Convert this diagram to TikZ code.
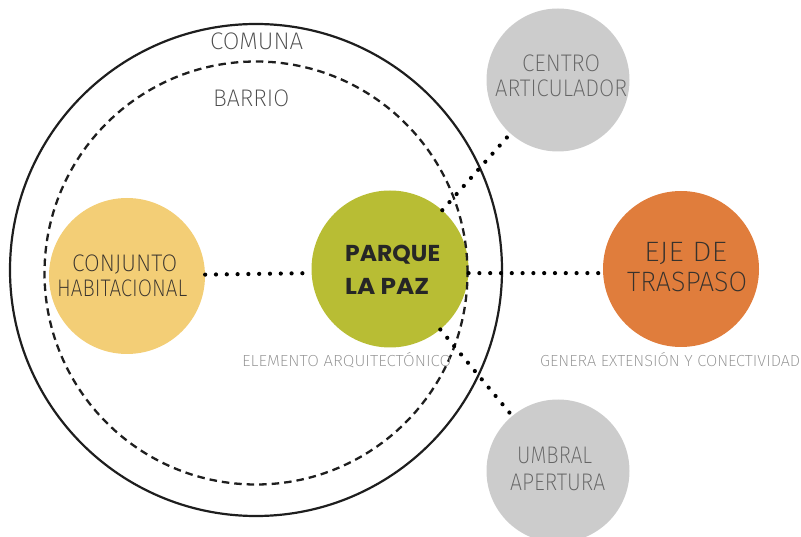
\documentclass[tikz,border=0pt]{standalone}
\usepackage{fontspec}
\newfontfamily\thinf{Fira Sans ExtraLight}
\newfontfamily\popf{Poppins}
\definecolor{cyel}{RGB}{243,206,118}
\definecolor{cgrn}{RGB}{184,189,52}
\definecolor{corg}{RGB}{224,125,60}
\definecolor{cgry}{RGB}{204,204,204}
\definecolor{cline}{RGB}{30,30,30}
\definecolor{tdark}{RGB}{55,50,45}
\definecolor{tmid}{RGB}{75,75,75}
\definecolor{tgry}{RGB}{100,100,100}
\definecolor{tlight}{RGB}{140,140,140}
\newcommand{\fitw}[2]{\resizebox{#1pt}{\height}{#2}}
\begin{document}
\begin{tikzpicture}[x=1pt,y=-1pt,
  bub/.style={circle,draw=none,inner sep=0pt},
  lbl/.style={inner sep=0pt,anchor=base west,font=\thinf\fontsize{24}{24}\selectfont},
  biglbl/.style={lbl,font=\thinf\fontsize{28}{28}\selectfont},
  smalllbl/.style={lbl,text=tlight,font=\thinf\fontsize{16}{16}\selectfont},
  boldlbl/.style={inner sep=0pt,anchor=base west,text=black!85,font=\popf\bfseries\fontsize{23}{23}\selectfont},
  dotline/.style={draw=black,line width=4.2pt,line cap=round,dash pattern=on 0pt off 10.8pt},
  ring/.style={draw=cline,line width=2.2pt},
  dashring/.style={draw=cline,line width=2.3pt,dash pattern=on 7.5pt off 5pt}]
\useasboundingbox (0,0) rectangle (801,537);
% circles
\node[bub,fill=cyel,minimum size=156pt] (yl) at (127,276) {};
\node[bub,fill=cgrn,minimum size=157pt] (pq) at (390,269) {};
\node[bub,fill=corg,minimum size=156pt] (ej) at (681,269) {};
\node[bub,fill=cgry,minimum size=143pt] (ca) at (558,80) {};
\node[bub,fill=cgry,minimum size=143pt] (ua) at (558,471) {};
% rings
\node[ring,circle,inner sep=0pt,minimum size=492pt] (comuna) at (256,270) {};
\node[dashring,circle,inner sep=0pt,minimum size=423pt] (barrio) at (256,273) {};
% dotted connectors
\draw[dotline] (yl.1.7) -- (pq.183.5);
\draw[dotline] (pq.-3.5) -- (ej.183.5);
\draw[dotline] (pq) -- (ca);
\draw[dotline] (pq) -- (ua);
% texts
\node[lbl,text=tmid] (tcom) at (210,50) {\fitw{93}{COMUNA}};
\node[lbl,text=tmid] (tbar) at (213,107) {\fitw{76}{BARRIO}};
\node[lbl,text=tdark] (tc1) at (72,272) {\fitw{105}{CONJUNTO}};
\node[lbl,text=tdark] (tc2) at (57,297) {\fitw{130}{HABITACIONAL}};
\node[biglbl,text=tdark] (te1) at (644,262) {\fitw{83}{EJE DE}};
\node[biglbl,text=tdark] (te2) at (627,292) {\fitw{120}{TRASPASO}};
\node[lbl,text=tgry] (tca1) at (522,72) {\fitw{78}{CENTRO}};
\node[lbl,text=tgry] (tca2) at (495,97) {\fitw{132}{ARTICULADOR}};
\node[lbl,text=tgry] (tua1) at (517,463) {\fitw{75}{UMBRAL}};
\node[lbl,text=tgry] (tua2) at (510,490) {\fitw{95}{APERTURA}};
\node[smalllbl] (tel) at (242,367) {\fitw{209}{ELEMENTO ARQUITECTÓNICO}};
\node[smalllbl] (tge) at (540,367) {\fitw{260}{GENERA EXTENSIÓN Y CONECTIVIDAD}};
\node[boldlbl] (tp1) at (345,262) {\fitw{95}{PARQUE}};
\node[boldlbl] (tp2) at (345,295) {\fitw{84}{LA PAZ}};
\end{tikzpicture}
\end{document}
